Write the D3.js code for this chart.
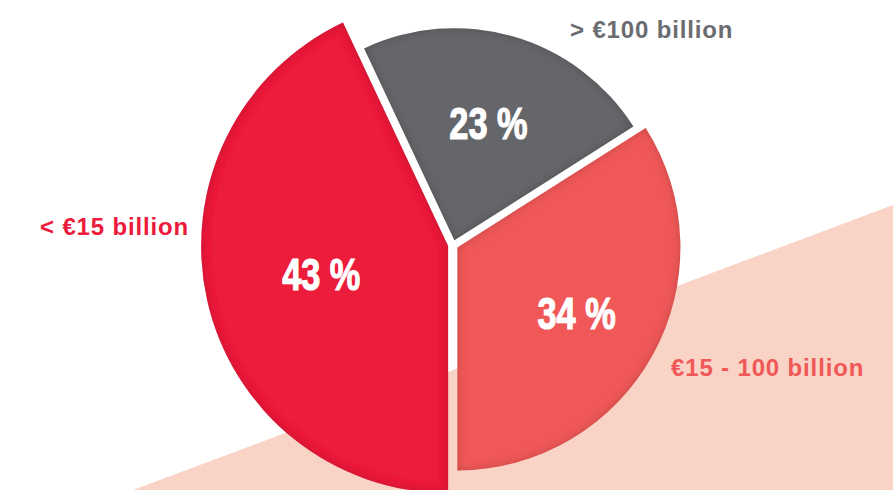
<!DOCTYPE html>
<html>
<head>
<meta charset="utf-8">
<script src="https://cdn.jsdelivr.net/npm/d3@7/dist/d3.min.js"></script>
<style>
  html, body { margin: 0; padding: 0; background: #ffffff; }
  svg { display: block; }
</style>
</head>
<body>
<svg id="chart" width="893" height="490"></svg>
<script>
// ---- data ----
const categories = ["< €15 billion", "> €100 billion", "€15 - 100 billion"];
const values = [43, 23, 34];
const valueLabels = ["43 %", "23 %", "34 %"];

// ---- styles / layout ----
const sliceColors = ["#ec1b3b", "#656669", "#f05858"];
const labelColors = ["#ec1b3b", "#6b6c70", "#f05858"];
const sliceRadii = [247, 212, 223];
const labelRadii = [130, 122, 136];
const W = 893, H = 490;
const cx = 453, cy = 245;
const explode = 5;

const svg = d3.select("#chart");
const defs = svg.append("defs");

// inner shadow filter
const f = defs.append("filter").attr("id", "inner")
  .attr("x", "-10%").attr("y", "-10%").attr("width", "120%").attr("height", "120%");
f.append("feFlood").attr("flood-color", "#000").attr("flood-opacity", 0.38).attr("result", "flood");
f.append("feComposite").attr("in", "flood").attr("in2", "SourceAlpha").attr("operator", "out").attr("result", "outside");
f.append("feGaussianBlur").attr("in", "outside").attr("stdDeviation", 5).attr("result", "blur");
f.append("feComposite").attr("in", "blur").attr("in2", "SourceAlpha").attr("operator", "in").attr("result", "shadow");
const m = f.append("feMerge");
m.append("feMergeNode").attr("in", "SourceGraphic");
m.append("feMergeNode").attr("in", "shadow");

// background peach band
const bgX = d3.scaleLinear().domain([0, 1]).range([133, W]);
const bgY = d3.scaleLinear().domain([0, 1]).range([H, 205]);
svg.append("path")
  .attr("d", d3.line()([[bgX(0), bgY(0)], [bgX(1), bgY(1)], [W, H]]) + "Z")
  .attr("fill", "#f9d3c6");

// pie
const pie = d3.pie().sort(null).value(d => d)
  .startAngle(Math.PI).endAngle(3 * Math.PI);
const arcs = pie(values);

const g = svg.append("g").attr("transform", `translate(${cx},${cy})`);

const slices = g.selectAll("g.slice").data(arcs).enter().append("g")
  .attr("class", "slice")
  .attr("transform", d => {
    const a = (d.startAngle + d.endAngle) / 2;
    return `translate(${explode * Math.sin(a)},${-explode * Math.cos(a)})`;
  });

slices.append("path")
  .attr("d", (d, i) => d3.arc().innerRadius(0).outerRadius(sliceRadii[i])(d))
  .attr("fill", (d, i) => sliceColors[i])
  .attr("filter", "url(#inner)");

// percentage labels (condensed heavy look)
slices.append("text")
  .attr("transform", (d, i) => {
    const c = d3.arc().innerRadius(labelRadii[i]).outerRadius(labelRadii[i]).centroid(d);
    return `translate(${c[0]},${c[1]}) scale(0.78,1)`;
  })
  .attr("text-anchor", "middle")
  .attr("dy", "0.36em")
  .attr("fill", "#ffffff")
  .attr("stroke", "#ffffff")
  .attr("stroke-width", 1.2)
  .style("font-family", "'Liberation Sans', Arial, sans-serif")
  .style("font-weight", "bold")
  .style("font-size", "44px")
  .text((d, i) => valueLabels[i]);

// category labels
const catPos = [
  { x: 40, y: 235, anchor: "start" },
  { x: 570, y: 38, anchor: "start" },
  { x: 671, y: 376, anchor: "start" }
];
svg.selectAll("text.cat").data(categories).enter().append("text")
  .attr("class", "cat")
  .attr("x", (d, i) => catPos[i].x)
  .attr("y", (d, i) => catPos[i].y)
  .attr("text-anchor", (d, i) => catPos[i].anchor)
  .attr("fill", (d, i) => labelColors[i])
  .style("font-family", "'Liberation Sans', Arial, sans-serif")
  .style("font-weight", "bold")
  .style("font-size", "24px")
  .style("letter-spacing", "0.85px")
  .text(d => d);
</script>
</body>
</html>
